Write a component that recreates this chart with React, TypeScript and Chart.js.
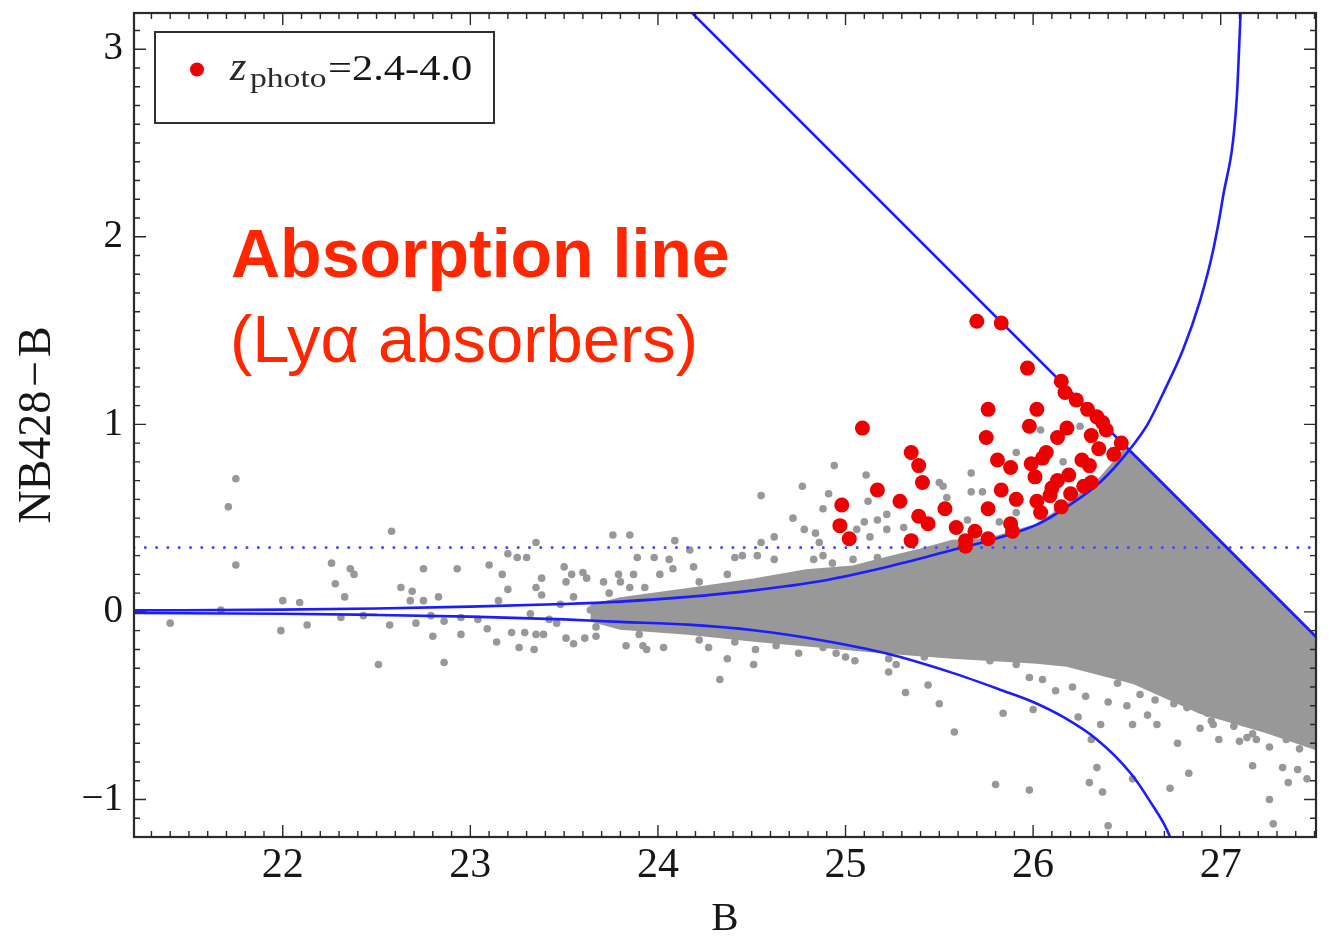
import React, { useEffect, useRef } from "react";
import { Chart, registerables } from "chart.js";

Chart.register(...registerables);

// ---------- axis ranges & ticks ----------
const X_RANGE: [number, number] = [21.207, 27.508];
const Y_RANGE: [number, number] = [-1.2, 3.193];
const X_TICKS = [22, 23, 24, 25, 26, 27];
const Y_TICKS = [-1, 0, 1, 2, 3];
const X_TITLE = "B";
const Y_TITLE = "NB428\u200a\u2212\u200aB";

// ---------- legend / annotation text ----------
const LEGEND_VAR = "z";
const LEGEND_SUB = "photo";
const LEGEND_RANGE = "=2.4-4.0";
const NOTE_TITLE = "Absorption line";
const NOTE_SUB = "(Ly\u03b1 absorbers)";

// ---------- data: [B, NB428-B] ----------
const RED_POINTS: [number, number][] = [
  [25.70, 1.55], [25.83, 1.54], [25.97, 1.30], [26.15, 1.23], [26.17, 1.17],
  [26.23, 1.13], [26.29, 1.08], [26.34, 1.04], [26.37, 1.01], [26.39, 0.97],
  [25.76, 1.08], [26.02, 1.08], [25.98, 0.99], [26.18, 0.98], [26.31, 0.94],
  [26.13, 0.93], [25.75, 0.93], [25.09, 0.98], [26.47, 0.90], [26.35, 0.87],
  [26.43, 0.84], [26.07, 0.85], [26.05, 0.82], [25.35, 0.85], [25.39, 0.78],
  [25.81, 0.81], [25.88, 0.77], [25.99, 0.79], [26.01, 0.72], [26.26, 0.81],
  [26.30, 0.78], [26.19, 0.73], [26.13, 0.70], [26.10, 0.66], [26.31, 0.69],
  [26.27, 0.67], [26.20, 0.63], [26.09, 0.62], [25.41, 0.69], [25.17, 0.65],
  [25.29, 0.59], [24.98, 0.57], [25.83, 0.65], [25.91, 0.60], [26.02, 0.59],
  [26.04, 0.53], [26.15, 0.56], [25.76, 0.55], [25.53, 0.55], [25.39, 0.51],
  [25.44, 0.47], [24.97, 0.46], [25.02, 0.39], [25.35, 0.38], [25.59, 0.45],
  [25.69, 0.43], [25.64, 0.38], [25.76, 0.39], [25.88, 0.47], [25.89, 0.43],
  [25.64, 0.35],
];

const GRAY_POINTS: [number, number][] = [
  [21.75, 0.71], [21.71, 0.56], [21.75, 0.25], [21.40, -0.06], [21.67, 0.01],
  [22.00, 0.06], [21.99, -0.10], [22.09, 0.05], [22.13, -0.07], [22.26, 0.26],
  [22.28, 0.15], [22.33, 0.08], [22.36, 0.23], [22.38, 0.20], [22.31, -0.03],
  [22.43, -0.02], [22.58, 0.43], [22.63, 0.13], [22.57, -0.07], [22.51, -0.28],
  [22.69, 0.11], [22.68, 0.06], [22.75, 0.23], [22.75, 0.06], [22.71, -0.06],
  [22.80, -0.13], [22.83, 0.08], [22.86, -0.27], [22.86, -0.05], [22.79, -0.02],
  [22.93, 0.23], [22.95, -0.03], [22.95, -0.12], [23.10, 0.25], [23.04, -0.04],
  [23.09, -0.09], [23.14, -0.16], [23.15, 0.06], [23.17, 0.20], [23.20, 0.12],
  [23.20, 0.31], [23.25, 0.29], [23.30, 0.29], [23.35, 0.37], [23.38, 0.18],
  [23.35, 0.13], [23.38, 0.09], [23.22, -0.11], [23.26, -0.19], [23.29, -0.11],
  [23.34, -0.20], [23.35, -0.12], [23.39, -0.12], [23.32, -0.01], [23.50, 0.24],
  [23.51, 0.16], [23.54, 0.20], [23.60, 0.21], [23.62, 0.18], [23.71, 0.16],
  [23.76, 0.41], [23.79, 0.20], [23.89, 0.29], [23.51, -0.14], [23.55, -0.17],
  [23.61, -0.14], [23.67, -0.13], [23.83, -0.18], [23.94, -0.20], [23.55, 0.08],
  [23.48, 0.04], [23.64, 0.01], [23.46, -0.06], [23.42, -0.04], [23.74, 0.10],
  [23.85, 0.13], [23.90, -0.12], [23.67, -0.08],
  [24.94, 0.78], [25.11, 0.73], [24.77, 0.67], [24.55, 0.62], [24.91, 0.63],
  [24.88, 0.55], [24.72, 0.50], [24.78, 0.44], [24.84, 0.42], [24.86, 0.37],
  [24.62, 0.40], [24.55, 0.37], [25.12, 0.59], [25.17, 0.49], [25.22, 0.52],
  [25.10, 0.48], [25.06, 0.44], [25.13, 0.40], [25.22, 0.44], [25.31, 0.45],
  [25.50, 0.69], [25.52, 0.67], [25.67, 0.74], [25.67, 0.64], [25.73, 0.64],
  [25.54, 0.61], [25.91, 0.53], [25.65, 0.49], [25.82, 0.48], [24.09, 0.38],
  [23.85, 0.41], [24.17, 0.33], [23.98, 0.29], [24.06, 0.28], [24.19, 0.24],
  [23.87, 0.20], [24.01, 0.20], [24.08, 0.23], [24.41, 0.29], [24.45, 0.30],
  [24.53, 0.30], [24.62, 0.28], [24.37, 0.20], [24.22, 0.16], [23.80, 0.16],
  [23.93, 0.13], [24.83, 0.28], [24.88, 0.30], [24.93, 0.26], [25.04, 0.28],
  [25.17, 0.29],
  [23.92, -0.18], [24.03, -0.19], [24.22, -0.15], [24.27, -0.19], [24.37, -0.25],
  [24.33, -0.36], [24.51, -0.28], [24.52, -0.20], [24.41, -0.16], [24.63, -0.18],
  [24.75, -0.22], [24.88, -0.19], [24.95, -0.22], [25.00, -0.24], [25.05, -0.26],
  [25.23, -0.32], [25.27, -0.28], [25.23, -0.25], [25.32, -0.43], [25.44, -0.39],
  [25.50, -0.49], [25.58, -0.64], [25.84, -0.54], [26.00, -0.52], [25.80, -0.92],
  [25.98, -0.95], [25.98, -0.35], [25.42, -0.24], [25.50, -0.19], [25.59, -0.20],
  [25.66, -0.22], [25.77, -0.26], [25.83, -0.23], [25.91, -0.28],
  [26.21, -0.40], [26.24, -0.56], [26.36, -0.60], [26.53, -0.60], [26.61, -0.55],
  [26.66, -0.60], [26.77, -0.70], [26.89, -0.62], [26.99, -0.68], [27.07, -0.61],
  [27.10, -0.69], [27.17, -0.65], [27.35, -0.68], [27.42, -0.73], [26.75, -0.49],
  [26.82, -0.51], [26.93, -0.54], [27.21, -0.54], [27.30, -0.51], [27.35, -0.58],
  [27.44, -0.60], [26.45, -0.38], [26.57, -0.44], [25.91, 0.85], [26.16, 0.80],
  [26.25, 0.99], [26.04, 0.97], [25.92, 0.60], [26.13, 0.54],
  [26.05, -0.36], [26.12, -0.42], [26.28, -0.45], [26.40, -0.48], [26.50, -0.50],
  [26.65, -0.47], [26.95, -0.58], [27.05, -0.56],
  [26.31, -0.68], [26.83, -0.86], [26.73, -0.94], [26.34, -0.83], [26.30, -0.91],
  [26.37, -0.96], [26.40, -1.14], [26.53, -0.89], [26.96, -0.60], [27.17, -0.82],
  [27.26, -1.00], [27.28, -1.13], [27.36, -0.91], [27.33, -0.83], [27.41, -0.84],
  [27.46, -0.89], [27.26, -0.72], [27.14, -0.67], [27.19, -0.68],
];

// outline of the dense (saturated) part of the gray cloud
const DENSE_UPPER: [number, number][] = [
  [23.64, 0.03], [23.80, 0.07], [24.16, 0.12], [24.51, 0.17], [24.79, 0.22],
  [25.04, 0.24], [25.22, 0.287], [25.40, 0.33], [25.57, 0.377], [25.75, 0.383],
  [26.02, 0.463], [26.18, 0.569], [26.36, 0.713], [26.50, 0.875], [27.51, -0.135],
];
const DENSE_LOWER: [number, number][] = [
  [23.64, -0.044], [23.80, -0.087], [24.16, -0.114], [24.51, -0.151], [24.87, -0.183],
  [25.22, -0.215], [25.57, -0.242], [26.02, -0.268], [26.18, -0.284], [26.53, -0.375],
  [26.89, -0.535], [27.25, -0.64], [27.51, -0.73],
];

// blue selection curves
const UPPER_CURVE: [number, number][] = [
  [21.21, 0.008], [22.0, 0.012], [22.5, 0.018], [23.0, 0.028], [23.5, 0.042],
  [23.8, 0.055], [24.16, 0.08], [24.51, 0.115], [24.87, 0.165], [25.22, 0.24],
  [25.57, 0.33], [25.8, 0.39], [26.02, 0.465], [26.18, 0.56], [26.36, 0.694],
  [26.51, 0.86], [26.61, 1.0], [26.7, 1.18], [26.8, 1.4], [26.89, 1.66],
  [26.96, 1.93], [27.01, 2.2], [27.085, 2.73], [27.106, 3.195], [27.115, 3.4],
];
const LOWER_CURVE: [number, number][] = [
  [21.21, -0.006], [22.0, -0.01], [22.5, -0.016], [23.0, -0.025], [23.5, -0.04],
  [23.8, -0.053], [24.16, -0.068], [24.51, -0.098], [24.87, -0.151], [25.22, -0.222],
  [25.57, -0.325], [25.84, -0.42], [26.0, -0.48], [26.16, -0.56], [26.34, -0.68],
  [26.52, -0.86], [26.62, -1.005], [26.73, -1.2], [26.76, -1.3],
];
const LIMIT_LINE: [number, number][] = [[24.0, 3.375], [27.6, -0.225]];
const THRESHOLD_LINE: [number, number][] = [[21.207, 0.344], [27.508, 0.344]];

// ---------- styles ----------
const RED = "rgb(236,0,0)";
const GRAY = "rgb(152,152,152)";
const BLUE = "rgb(28,28,255)";
const DOT_BLUE = "rgb(70,70,255)";
const AXIS_COLOR = "#2a2a2a";
const TEXT_COLOR = "#161616";
const NOTE_COLOR = "rgb(255,38,0)";
const SERIF = '"Liberation Serif", "Times New Roman", serif';
const SANS = '"Liberation Sans", Arial, Helvetica, sans-serif';

const xy = (pts: [number, number][]) => pts.map(([x, y]) => ({ x, y }));

const decorPlugin = {
  id: "decor",
  afterDraw(chart: any) {
    const { ctx, chartArea: a, scales } = chart;
    const xs = scales.x;
    const ys = scales.y;
    ctx.save();
    // inward ticks on all four sides
    ctx.strokeStyle = AXIS_COLOR;
    ctx.lineWidth = 1.4;
    ctx.beginPath();
    const MAJOR = 12;
    const MINOR = 6;
    for (let i = Math.ceil(X_RANGE[0] * 10); i <= Math.floor(X_RANGE[1] * 10); i++) {
      const px = xs.getPixelForValue(i / 10);
      const len = i % 10 === 0 ? MAJOR : MINOR;
      ctx.moveTo(px, a.bottom);
      ctx.lineTo(px, a.bottom - len);
      ctx.moveTo(px, a.top);
      ctx.lineTo(px, a.top + len);
    }
    for (let i = Math.ceil(Y_RANGE[0] * 10); i <= Math.floor(Y_RANGE[1] * 10); i++) {
      const py = ys.getPixelForValue(i / 10);
      const len = i % 10 === 0 ? MAJOR : MINOR;
      ctx.moveTo(a.left, py);
      ctx.lineTo(a.left + len, py);
      ctx.moveTo(a.right, py);
      ctx.lineTo(a.right - len, py);
    }
    ctx.stroke();
    ctx.lineWidth = 2.2;
    ctx.strokeRect(a.left, a.top, a.right - a.left, a.bottom - a.top);

    // legend box
    const lx = a.left + 21;
    const ly = a.top + 19;
    ctx.fillStyle = "#ffffff";
    ctx.fillRect(lx, ly, 339, 91);
    ctx.lineWidth = 2;
    ctx.strokeStyle = "#303030";
    ctx.strokeRect(lx, ly, 339, 91);
    ctx.fillStyle = RED;
    ctx.beginPath();
    ctx.arc(a.left + 63, a.top + 56.5, 7, 0, Math.PI * 2);
    ctx.fill();
    ctx.fillStyle = "#2a2a2a";
    ctx.textBaseline = "alphabetic";
    ctx.textAlign = "left";
    ctx.font = `italic 42px ${SERIF}`;
    ctx.fillText(LEGEND_VAR, a.left + 96, a.top + 67);
    ctx.save();
    ctx.translate(a.left + 116, a.top + 74);
    ctx.scale(1.2, 1);
    ctx.font = `28px ${SERIF}`;
    ctx.fillText(LEGEND_SUB, 0, 0);
    ctx.restore();
    ctx.save();
    ctx.translate(a.left + 194, a.top + 67);
    ctx.scale(1.18, 1);
    ctx.fillStyle = TEXT_COLOR;
    ctx.font = `36px ${SERIF}`;
    ctx.fillText(LEGEND_RANGE, 0, 0);
    ctx.restore();

    // annotation
    ctx.fillStyle = NOTE_COLOR;
    ctx.font = `bold 68px ${SANS}`;
    ctx.fillText(NOTE_TITLE, a.left + 97, a.top + 264.3);
    ctx.font = `67px ${SANS}`;
    ctx.fillText(NOTE_SUB, a.left + 96, a.top + 348.7);
    ctx.restore();
  },
};

export default function App() {
  const ref = useRef<HTMLCanvasElement>(null);
  useEffect(() => {
    if (!ref.current) return;
    const chart = new Chart(ref.current, {
      type: "scatter",
      data: {
        datasets: [
          {
            label: "zphoto=2.4-4.0",
            data: xy(RED_POINTS),
            pointRadius: 7.5,
            pointBackgroundColor: RED,
            pointBorderWidth: 0,
            order: 0,
          } as any,
          {
            type: "line",
            label: "upper",
            data: xy(UPPER_CURVE),
            borderColor: BLUE,
            borderWidth: 2.6,
            pointRadius: 0,
            fill: false,
            cubicInterpolationMode: "monotone",
            order: 1,
          },
          {
            type: "line",
            label: "lower",
            data: xy(LOWER_CURVE),
            borderColor: BLUE,
            borderWidth: 2.6,
            pointRadius: 0,
            fill: false,
            cubicInterpolationMode: "monotone",
            order: 1,
          },
          {
            type: "line",
            label: "limit",
            data: xy(LIMIT_LINE),
            borderColor: BLUE,
            borderWidth: 2.6,
            pointRadius: 0,
            fill: false,
            order: 1,
          },
          {
            type: "line",
            label: "threshold",
            data: xy(THRESHOLD_LINE),
            borderColor: DOT_BLUE,
            borderWidth: 3,
            borderDash: [0, 11.3],
            borderCapStyle: "round",
            pointRadius: 0,
            fill: false,
            order: 2,
          },
          {
            label: "all",
            data: xy(GRAY_POINTS),
            pointRadius: 3.8,
            pointBackgroundColor: GRAY,
            pointBorderWidth: 0,
            order: 3,
          } as any,
          {
            type: "line",
            label: "dense-upper",
            data: xy(DENSE_UPPER),
            borderColor: GRAY,
            borderWidth: 3,
            backgroundColor: GRAY,
            pointRadius: 0,
            fill: "+1",
            order: 4,
          },
          {
            type: "line",
            label: "dense-lower",
            data: xy(DENSE_LOWER),
            borderColor: GRAY,
            borderWidth: 3,
            backgroundColor: GRAY,
            pointRadius: 0,
            fill: false,
            order: 4,
          },
        ],
      },
      options: {
        responsive: false,
        devicePixelRatio: 1,
        animation: false,
        events: [],
        layout: { padding: { left: 0, top: 13, right: 15, bottom: 0 } },
        plugins: {
          legend: { display: false },
          tooltip: { enabled: false },
        },
        scales: {
          x: {
            type: "linear",
            min: X_RANGE[0],
            max: X_RANGE[1],
            grid: { display: false, drawTicks: false },
            border: { display: false },
            afterFit: (s: any) => {
              s.height = 101;
              s.paddingLeft = 0;
              s.paddingRight = 0;
              s.paddingTop = 0;
              s.paddingBottom = 0;
            },
            afterBuildTicks: (s: any) => {
              s.ticks = X_TICKS.map((v) => ({ value: v }));
            },
            ticks: {
              padding: 4,
              color: TEXT_COLOR,
              font: { family: SERIF, size: 42 },
              callback: (v: any) => String(v),
            },
            title: {
              display: true,
              text: X_TITLE,
              color: TEXT_COLOR,
              font: { family: SERIF, size: 41, lineHeight: 0.8 },
              padding: { top: 0, bottom: 2.4 },
            },
          },
          y: {
            type: "linear",
            min: Y_RANGE[0],
            max: Y_RANGE[1],
            grid: { display: false, drawTicks: false },
            border: { display: false },
            afterFit: (s: any) => {
              s.width = 134;
              s.paddingLeft = 0;
              s.paddingRight = 0;
              s.paddingTop = 0;
              s.paddingBottom = 0;
            },
            afterBuildTicks: (s: any) => {
              s.ticks = Y_TICKS.map((v) => ({ value: v }));
            },
            ticks: {
              padding: 11,
              color: TEXT_COLOR,
              font: { family: SERIF, size: 39 },
              callback: (v: any) => (Number(v) < 0 ? "\u2212" + Math.abs(Number(v)) : String(v)),
            },
            title: {
              display: true,
              text: Y_TITLE,
              color: TEXT_COLOR,
              font: { family: SERIF, size: 46, lineHeight: 1 },
              padding: { top: 15.3, bottom: 0 },
            },
          },
        },
      },
      plugins: [decorPlugin],
    } as any);
    return () => chart.destroy();
  }, []);

  return (
    <div
      style={{
        position: "absolute",
        left: 0,
        top: 0,
        width: 1331,
        height: 938,
        background: "#ffffff",
      }}
    >
      <canvas ref={ref} width={1331} height={938} style={{ display: "block" }} />
    </div>
  );
}
